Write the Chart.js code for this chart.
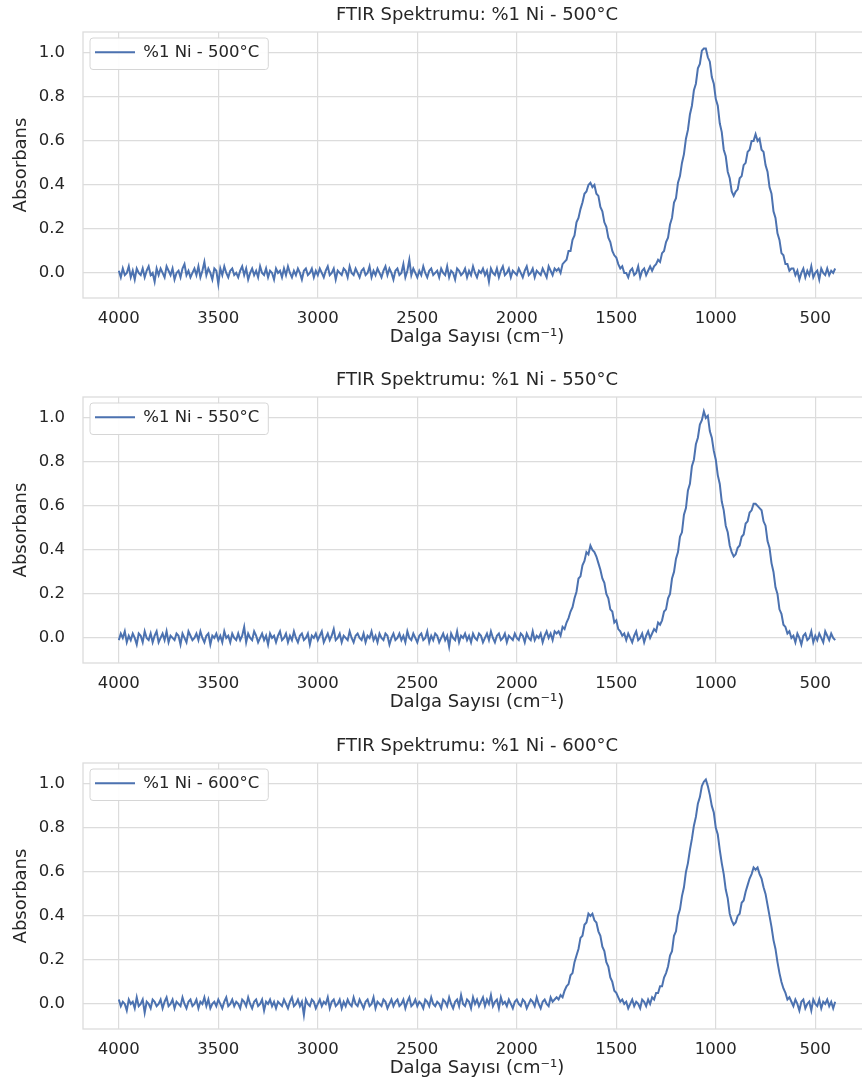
<!DOCTYPE html>
<html>
<head>
<meta charset="utf-8">
<script src="https://cdn.jsdelivr.net/npm/chart.js@4.4.1/dist/chart.umd.min.js"></script>
<style>
  html, body { margin: 0; padding: 0; background: #ffffff; }
  body { width: 862px; height: 1091px; overflow: hidden; position: relative; }
  canvas { position: absolute; left: 0; }
</style>
</head>
<body>
<canvas id="c1" width="872" height="365" style="top:0px"></canvas>
<canvas id="c2" width="872" height="365" style="top:365px"></canvas>
<canvas id="c3" width="872" height="365" style="top:731px"></canvas>
<script>
// ---- Data ----
const waveStart = 4000;   // cm-1
const waveStep = 10;      // cm-1 sampling used for the readings
const sampleCount = 361;  // 4000 ... 400
const wavenumbers = [];
for (let i = 0; i < sampleCount; i++) wavenumbers.push(waveStart - waveStep * i);

const xTicks = [4000, 3500, 3000, 2500, 2000, 1500, 1000, 500];
const yTicks = [0, 0.2, 0.4, 0.6, 0.8, 1.0];

const titles = ["FTIR Spektrumu: %1 Ni - 500°C", "FTIR Spektrumu: %1 Ni - 550°C", "FTIR Spektrumu: %1 Ni - 600°C"];
const seriesLabels = ["%1 Ni - 500°C", "%1 Ni - 550°C", "%1 Ni - 600°C"];
const xAxisLabel = "Dalga Sayısı (cm⁻¹)";
const yAxisLabel = "Absorbans";

const absorbance500 = [
 0.01,-0.02,0.02,-0.01,0.00,0.03,-0.02,0.01,-0.03,0.02,0.00,-0.01,0.02,-0.02,0.01,0.03,-0.01,0.00,-0.04,0.02,
 -0.01,0.02,0.00,-0.02,0.03,0.01,-0.01,0.02,-0.03,0.00,0.01,-0.02,0.02,0.04,-0.01,0.01,-0.02,0.00,0.02,-0.01,
 0.03,-0.02,0.01,0.05,-0.01,0.02,0.00,-0.03,0.02,0.01,-0.05,0.02,-0.01,0.03,0.00,-0.02,0.01,0.02,-0.01,0.00,
 -0.02,0.01,0.03,-0.01,0.02,-0.03,0.00,0.02,-0.01,0.01,-0.02,0.03,0.00,-0.01,0.02,-0.02,0.01,0.00,-0.03,0.02,
 0.00,0.01,-0.02,0.02,-0.01,0.03,0.00,-0.02,0.01,-0.01,0.02,0.00,-0.03,0.01,0.02,-0.01,0.00,0.02,-0.02,0.01,
 -0.01,0.02,0.00,-0.02,0.01,0.03,-0.01,0.00,0.02,-0.03,0.01,0.00,-0.01,0.02,0.01,-0.02,0.03,0.00,-0.01,0.02,
 0.00,-0.02,0.01,0.02,-0.01,0.00,0.03,-0.02,0.01,-0.01,0.02,0.00,-0.02,0.01,0.03,-0.01,0.02,0.00,-0.03,0.01,
 0.02,-0.01,0.00,0.04,-0.02,0.01,0.06,-0.01,0.02,0.00,-0.02,0.01,-0.01,0.03,0.00,-0.02,0.01,0.02,-0.01,0.00,
 0.01,-0.02,0.02,0.00,-0.01,0.03,-0.02,0.01,0.00,-0.03,0.02,0.01,-0.01,0.00,0.02,-0.02,0.01,-0.01,0.03,0.00,
 -0.02,0.01,0.00,0.02,-0.01,0.01,-0.04,0.02,0.00,-0.01,0.02,-0.02,0.01,0.03,-0.01,0.00,0.02,-0.02,0.01,0.00,
 -0.01,0.02,0.00,-0.02,0.01,0.03,-0.01,0.00,0.02,-0.02,0.01,0.00,-0.01,0.02,0.00,-0.02,0.03,0.01,-0.01,0.02,
 0.01,
 0.02,0.00,0.04,0.05,0.06,0.10,0.10,0.15,0.17,0.23,0.25,0.29,0.32,0.36,0.37,0.40,0.41,0.39,0.40,0.36,
 0.35,0.30,0.28,0.23,0.21,0.16,0.14,0.10,0.08,0.07,0.04,0.02,0.03,0.00,
 0.00,-0.02,0.01,0.02,-0.01,0.00,0.03,-0.02,0.01,0.02,-0.01,0.01,0.03,0.01,0.03,
 0.04,0.06,0.05,0.09,0.10,0.14,0.16,0.22,0.25,0.32,0.34,0.41,0.44,0.50,0.54,0.61,0.65,0.72,0.76,0.83,
 0.86,0.93,0.95,1.01,1.02,1.02,0.98,0.96,0.89,0.86,0.79,0.76,0.68,0.64,0.56,0.53,0.46,0.43,0.37,0.35,
 0.37,0.38,0.43,0.44,0.49,0.50,0.55,0.56,0.60,0.60,0.63,0.60,0.61,0.56,0.55,0.49,0.46,0.39,0.36,0.28,
 0.25,0.18,0.15,0.09,0.08,0.04,0.04,0.01,0.02,
 0.02,-0.01,0.01,-0.03,0.00,0.02,-0.02,0.01,-0.01,0.03,-0.02,0.00,0.01,-0.03,0.02,0.00,-0.01,0.02,-0.01,0.01,
 0.00,0.02
];

const absorbance550 = [
 -0.01,0.02,0.00,0.03,-0.02,0.01,-0.01,0.02,0.00,-0.03,0.02,0.01,-0.02,0.03,0.00,-0.01,0.02,-0.02,0.01,0.03,
 -0.02,0.00,0.02,-0.01,0.03,-0.02,0.01,0.00,-0.01,0.02,0.01,-0.03,0.02,0.00,-0.02,0.03,0.01,-0.01,0.00,0.02,
 -0.01,0.03,0.00,-0.02,0.01,0.02,-0.03,0.01,0.00,0.02,-0.01,0.01,-0.02,0.03,0.00,0.01,-0.02,0.02,0.00,-0.01,
 0.02,-0.01,0.01,0.05,-0.02,0.02,0.00,-0.01,0.03,0.01,-0.02,0.00,0.02,-0.01,0.01,-0.03,0.02,0.00,0.01,-0.02,
 0.01,0.03,-0.01,0.00,0.02,-0.02,0.01,-0.01,0.03,0.00,-0.02,0.01,0.02,-0.01,0.00,0.02,-0.03,0.01,0.00,0.02,
 -0.01,0.01,0.03,-0.02,0.00,0.02,-0.01,0.01,0.04,-0.01,0.00,0.02,-0.02,0.01,0.00,-0.01,0.03,0.00,-0.02,0.01,
 0.02,0.00,-0.01,0.02,-0.02,0.01,0.00,0.03,-0.01,0.01,-0.02,0.02,0.00,-0.01,0.02,0.01,-0.03,0.00,0.02,-0.01,
 0.00,0.02,-0.01,0.01,-0.02,0.03,0.00,-0.01,0.02,0.00,-0.02,0.01,0.02,-0.01,0.00,0.03,-0.02,0.01,-0.01,0.02,
 0.01,-0.02,0.00,0.02,-0.01,0.01,-0.04,0.02,0.00,-0.01,0.03,-0.02,0.01,0.00,0.02,-0.01,0.01,-0.02,0.02,0.00,
 -0.01,0.02,0.01,-0.02,0.00,0.02,-0.01,0.03,0.00,-0.02,0.01,0.02,-0.01,0.00,0.02,-0.02,0.01,0.00,-0.01,0.02,
 0.00,-0.01,0.02,0.01,-0.02,0.02,0.00,-0.01,0.03,-0.01,0.01,0.00,0.02,-0.02,0.01,0.03,0.00,0.02,-0.01,0.03,
 0.02,
 0.03,0.01,0.05,0.04,0.07,0.09,0.12,0.14,0.18,0.21,0.27,0.28,0.33,0.35,0.39,0.38,0.42,0.40,0.39,0.37,
 0.34,0.31,0.27,0.25,0.20,0.18,0.13,0.12,0.07,0.08,0.04,0.03,0.01,0.02,
 -0.01,0.02,0.00,-0.02,0.01,0.03,-0.01,0.00,0.02,-0.02,0.01,0.03,0.00,0.02,0.04,
 0.03,0.07,0.06,0.08,0.12,0.13,0.18,0.20,0.27,0.30,0.36,0.39,0.46,0.48,0.56,0.59,0.67,0.70,0.78,0.81,
 0.88,0.91,0.97,0.99,1.03,1.00,1.01,0.94,0.91,0.85,0.81,0.74,0.70,0.62,0.58,0.51,0.48,0.42,0.39,0.37,
 0.38,0.41,0.42,0.46,0.47,0.52,0.53,0.57,0.58,0.61,0.61,0.60,0.59,0.58,0.53,0.51,0.44,0.41,0.34,0.30,
 0.23,0.20,0.13,0.11,0.06,0.05,0.02,0.03,0.00,
 0.01,-0.02,0.02,0.00,-0.03,0.01,0.02,-0.01,0.00,0.03,-0.02,0.01,-0.01,0.02,0.00,-0.02,0.03,0.01,-0.01,0.02,
 0.00,-0.01
];

const absorbance600 = [
 0.02,-0.01,0.01,0.00,-0.03,0.02,0.00,0.01,-0.02,0.03,-0.01,0.00,0.02,-0.04,0.01,0.00,-0.02,0.02,0.01,-0.01,
 0.00,0.02,-0.02,0.01,0.03,-0.01,0.00,0.02,-0.02,0.01,0.00,-0.01,0.03,0.00,-0.02,0.01,0.02,-0.01,0.00,0.02,
 -0.02,0.01,0.00,0.03,-0.01,0.02,-0.02,0.00,0.01,-0.01,0.02,0.00,-0.02,0.01,0.03,-0.01,0.00,0.02,-0.01,0.01,
 0.00,-0.02,0.02,0.01,-0.01,0.03,0.00,-0.02,0.01,0.02,-0.01,0.00,0.02,-0.03,0.01,0.00,0.02,-0.01,0.01,-0.02,
 0.01,0.00,-0.01,0.02,0.00,-0.02,0.01,0.03,-0.01,0.00,0.02,-0.01,0.01,-0.05,0.02,0.00,-0.01,0.02,0.01,-0.02,
 0.00,0.02,-0.01,0.01,0.00,0.03,-0.02,0.01,0.02,-0.01,0.00,0.02,-0.02,0.01,-0.01,0.02,0.00,-0.01,0.03,0.00,
 -0.01,0.02,0.00,-0.02,0.01,0.02,-0.01,0.00,0.03,-0.02,0.01,0.00,-0.01,0.02,0.01,-0.02,0.00,0.02,-0.01,0.01,
 0.02,-0.01,0.00,0.02,-0.02,0.01,0.03,-0.01,0.00,0.02,-0.01,0.01,0.00,-0.02,0.02,0.01,-0.01,0.03,0.00,-0.01,
 0.01,0.00,-0.02,0.02,0.01,-0.01,0.03,0.00,-0.02,0.01,0.02,-0.01,0.04,0.00,-0.01,0.02,0.01,-0.02,0.03,0.00,
 0.02,-0.01,0.01,0.03,-0.01,0.02,0.00,0.04,-0.01,0.01,0.02,-0.02,0.03,0.00,0.01,-0.01,0.02,0.00,-0.02,0.01,
 0.02,0.00,-0.01,0.02,0.01,-0.02,0.00,0.02,0.01,-0.01,0.03,0.00,-0.02,0.01,0.02,0.00,-0.01,0.03,0.01,0.02,
 0.03,
 0.02,0.04,0.03,0.06,0.08,0.09,0.13,0.14,0.19,0.22,0.25,0.30,0.31,0.36,0.37,0.41,0.40,0.41,0.38,0.37,
 0.33,0.31,0.26,0.24,0.19,0.17,0.12,0.10,0.06,0.05,0.03,0.01,0.02,0.00,
 0.01,-0.02,0.00,0.02,-0.01,0.01,0.00,-0.02,0.02,0.01,-0.01,0.02,0.00,0.03,0.02,
 0.05,0.05,0.08,0.08,0.12,0.14,0.17,0.22,0.24,0.31,0.33,0.40,0.43,0.49,0.53,0.60,0.64,0.70,0.75,0.81,
 0.85,0.91,0.94,0.99,1.01,1.02,0.99,0.95,0.90,0.87,0.80,0.77,0.70,0.64,0.59,0.52,0.48,0.41,0.38,0.36,
 0.37,0.40,0.41,0.46,0.47,0.51,0.54,0.57,0.59,0.62,0.61,0.62,0.59,0.57,0.53,0.50,0.45,0.40,0.35,0.29,
 0.25,0.19,0.14,0.10,0.07,0.05,0.02,0.03,0.01,
 -0.01,0.02,0.00,-0.03,0.01,0.02,-0.02,0.00,0.01,-0.03,0.02,0.00,-0.01,0.02,-0.02,0.01,0.00,0.02,-0.01,0.01,
 -0.02,0.01
];

// ---- Styling ----
const FONT = "'DejaVu Sans', 'Liberation Sans', sans-serif";
const TEXT = '#262626';
const GRID = '#dcdcdc';
const LINE = '#4c72b0';
const LEGEND_FONT_SIZE = 16.5;
const LEGEND_PAD = 12;
const LEGEND_HANDLE = 40;

Chart.defaults.font.family = FONT;

const framePlugin = {
  id: 'frameAndLegendBox',
  afterLayout(chart) {
    // put the legend box exactly on the plot area so it is drawn in the upper-left corner
    const lg = chart.legend, a = chart.chartArea;
    if (!lg) return;
    lg.left = a.left; lg.right = a.right; lg.top = a.top; lg.bottom = a.bottom;
    lg.width = a.right - a.left; lg.height = a.bottom - a.top;
  },
  beforeDatasetsDraw(chart) {
    const ctx = chart.ctx, a = chart.chartArea;
    ctx.save();
    ctx.strokeStyle = GRID;
    ctx.lineWidth = 1.3;
    ctx.strokeRect(a.left, a.top, a.right - a.left, a.bottom - a.top);
    // legend frame (white, slightly transparent, rounded)
    const lg = chart.legend;
    if (lg) {
      ctx.font = LEGEND_FONT_SIZE + 'px ' + FONT;
      const tw = ctx.measureText(chart.data.datasets[0].label).width;
      const x0 = a.left + LEGEND_PAD, y0 = a.top + LEGEND_PAD;
      const w = LEGEND_HANDLE + LEGEND_FONT_SIZE / 2 + tw;
      ctx.beginPath();
      ctx.roundRect(x0 - 5, y0 - 6, w + 14, LEGEND_FONT_SIZE + 15, 3);
      ctx.fillStyle = 'rgba(255,255,255,0.92)';
      ctx.fill();
      ctx.strokeStyle = '#d6d6d6';
      ctx.lineWidth = 1;
      ctx.stroke();
    }
    ctx.restore();
    if (lg) lg.draw();
  }
};

function makeChart(id, title, label, values) {
  const points = wavenumbers.map((w, i) => ({ x: w, y: values[i] }));
  return new Chart(document.getElementById(id), {
    type: 'line',
    data: {
      datasets: [{
        label: label,
        data: points,
        borderColor: LINE,
        backgroundColor: LINE,
        borderWidth: 2,
        pointRadius: 0,
        tension: 0,
        fill: false
      }]
    },
    options: {
      responsive: false,
      animation: false,
      devicePixelRatio: 1,
      layout: { padding: { left: 0, right: 1, top: 0, bottom: 0 } },
      plugins: {
        title: {
          display: true,
          text: title,
          fullSize: false,
          color: TEXT,
          font: { family: FONT, size: 18, weight: 'normal' },
          padding: { top: 4.2, bottom: 6.2 }
        },
        legend: {
          display: true,
          position: 'chartArea',
          align: 'start',
          labels: {
            usePointStyle: true,
            pointStyle: 'line',
            pointStyleWidth: LEGEND_HANDLE,
            padding: LEGEND_PAD,
            color: TEXT,
            font: { family: FONT, size: LEGEND_FONT_SIZE }
          }
        },
        tooltip: { enabled: false }
      },
      scales: {
        x: {
          type: 'linear',
          reverse: true,
          min: 220,
          max: 4180,
          afterBuildTicks: (axis) => { axis.ticks = xTicks.map(v => ({ value: v })); },
          afterFit: (axis) => { axis.height = 67; },
          grid: { color: GRID, lineWidth: 1.2, drawTicks: false },
          border: { display: false },
          ticks: {
            padding: 11,
            color: TEXT,
            font: { family: FONT, size: 16.5 },
            maxRotation: 0,
            autoSkip: false,
            callback: (v) => String(v)
          },
          title: {
            display: true,
            text: xAxisLabel,
            color: TEXT,
            font: { family: FONT, size: 18 },
            padding: { top: 0, bottom: 17 }
          }
        },
        y: {
          type: 'linear',
          min: -0.114,
          max: 1.095,
          afterBuildTicks: (axis) => { axis.ticks = yTicks.map(v => ({ value: v })); },
          afterFit: (axis) => { axis.width = 83; },
          grid: { color: GRID, lineWidth: 1.2, drawTicks: false },
          border: { display: false },
          ticks: {
            padding: 18,
            color: TEXT,
            font: { family: FONT, size: 16.5 },
            callback: (v) => Number(v).toFixed(1)
          },
          title: {
            display: true,
            text: yAxisLabel,
            color: TEXT,
            font: { family: FONT, size: 18 },
            padding: { top: 11, bottom: 0 }
          }
        }
      }
    },
    plugins: [framePlugin]
  });
}

makeChart('c1', titles[0], seriesLabels[0], absorbance500);
makeChart('c2', titles[1], seriesLabels[1], absorbance550);
makeChart('c3', titles[2], seriesLabels[2], absorbance600);
</script>
</body>
</html>
